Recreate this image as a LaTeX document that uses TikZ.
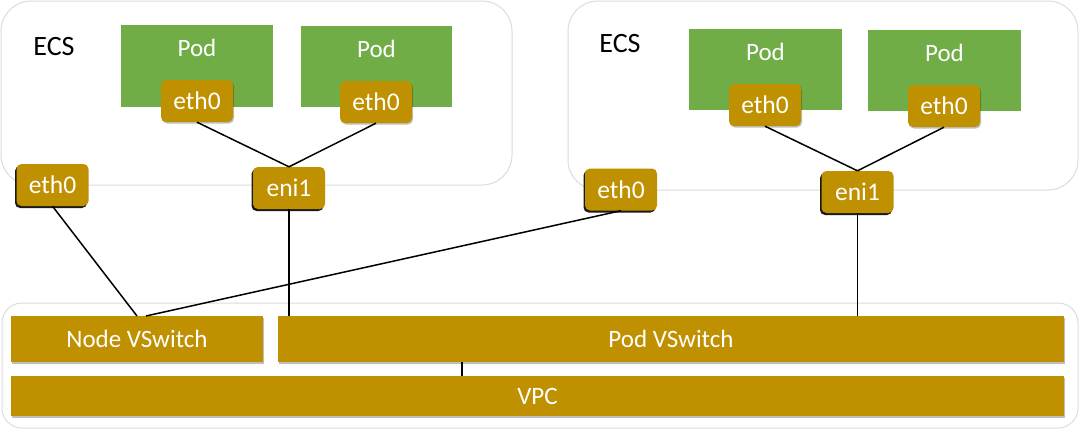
\documentclass[tikz,border=0pt]{standalone}
\usepackage{fontspec}
\setmainfont{Carlito}
\usetikzlibrary{shadows}
\definecolor{podgreen}{HTML}{70AD47}
\definecolor{gold}{HTML}{BF9000}
\definecolor{frame}{HTML}{DCDCDC}
\tikzset{
  ecsbox/.style={draw=frame, line width=1pt, fill=white, rounded corners=30pt},
  basebox/.style={draw=frame, line width=1pt, fill=white, rounded corners=20pt},
  podbox/.style={rectangle, fill=podgreen, inner sep=0pt, text=white},
  ifbox/.style={rectangle, fill=gold, rounded corners=5pt, inner sep=0pt,
    minimum width=72pt, minimum height=42pt, text=white,
    font=\fontsize{25.5}{30}\selectfont},
  ifin/.style={ifbox, drop shadow={shadow xshift=1pt, shadow yshift=-1.5pt, fill=black, opacity=0.25}},
  ifout/.style={ifbox, drop shadow={shadow xshift=-1.5pt, shadow yshift=-2pt, fill=black, opacity=0.9}},
  barbox/.style={rectangle, fill=gold, inner sep=0pt, text=white,
    font=\fontsize{25}{30}\selectfont,
    drop shadow={shadow xshift=0.5pt, shadow yshift=-1.5pt, fill=black, opacity=0.25}},
  podlabel/.style={text=white, font=\fontsize{25}{30}\selectfont, inner sep=0pt},
  ecslabel/.style={text=black, font=\fontsize{28}{32}\selectfont, inner sep=0pt},
  link/.style={draw=black, line width=1.5pt}
}
\begin{document}
\begin{tikzpicture}[x=1pt,y=-1pt]
\useasboundingbox (0,0) rectangle (1080,431);
\fill[white] (0,0) rectangle (1080,431);
% ECS frames
\draw[ecsbox] (1,1) rectangle (512,185);
\draw[ecsbox] (568,1) rectangle (1078,190);
\draw[basebox] (2,303) rectangle (1078,428);
% ECS labels
\node[ecslabel] (ecs1) at (54,47) {ECS};
\node[ecslabel] (ecs2) at (620,44) {ECS};
% Pods
\node[podbox, minimum width=152pt, minimum height=82pt] (pod1) at (197,66) {};
\node[podbox, minimum width=151pt, minimum height=81pt] (pod2) at (376.5,66.5) {};
\node[podbox, minimum width=153pt, minimum height=81pt] (pod3) at (765.5,69.5) {};
\node[podbox, minimum width=153pt, minimum height=81pt] (pod4) at (944.5,70.5) {};
\node[podlabel] (pl1) at (197,48) {Pod};
\node[podlabel] (pl2) at (376.5,49) {Pod};
\node[podlabel] (pl3) at (765.5,52) {Pod};
\node[podlabel] (pl4) at (944.5,53) {Pod};
% pod interfaces
\node[ifin] (e1) at (197,101) {eth0};
\node[ifin] (e2) at (376,102) {eth0};
\node[ifin] (e3) at (765,105) {eth0};
\node[ifin] (e4) at (944,106) {eth0};
% node interfaces
\node[ifout] (eL) at (52.5,185) {eth0};
\node[ifout] (niL) at (289,188) {eni1};
\node[ifout] (eM) at (621,189.5) {eth0};
\node[ifout] (niR) at (857.5,192) {eni1};
% bars
\node[barbox, minimum width=252pt, minimum height=46pt] (nvs) at (137,339) {Node VSwitch};
\node[barbox, minimum width=786pt, minimum height=46pt] (pvs) at (671,339) {Pod VSwitch};
\node[barbox, minimum width=1053pt, minimum height=40pt] (vpc) at (537.5,396) {VPC};
\coordinate (nvsA) at (137,316);
\coordinate (nvsB) at (146,316);
\coordinate (pvsV) at (462,362);
% links
\draw[link] (e1.south) -- (niL.north);
\draw[link] (e2.south) -- (niL.north);
\draw[link] (e3.south) -- (niR.north);
\draw[link] (e4.south) -- (niR.north);
\draw[link] (eL.south) -- (nvsA);
\draw[link] (eM.south) -- (nvsB);
\draw[link] (niL.south) -- (niL.south |- pvs.north);
\draw[link] (niR.south) -- (niR.south |- pvs.north);
\draw[link] (pvsV) -- (pvsV |- vpc.north);
\end{tikzpicture}
\end{document}
